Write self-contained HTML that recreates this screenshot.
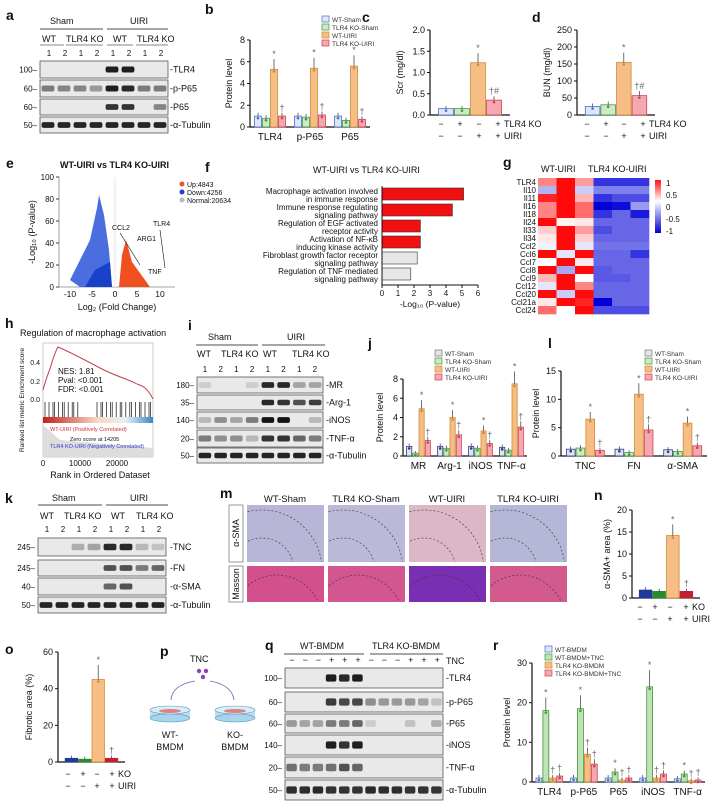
<!DOCTYPE html>
<html><head><meta charset="utf-8">
<style>
html,body{margin:0;padding:0;background:#fff;}
svg{display:block;font-family:"Liberation Sans",Arial,sans-serif;}
</style></head>
<body>
<svg id="fig" width="720" height="805" viewBox="0 0 720 805" xmlns="http://www.w3.org/2000/svg"></svg>
<script>
// ---------- data ----------
const bCats=["TLR4","p-P65","P65"];
const bVals=[[1.0,0.8,5.3,1.0],[1.0,0.9,5.4,1.1],[1.0,0.6,5.6,0.7]];
const bTicks=[0,2,4,6,8];
const cVals=[[0.15,0.15,1.23,0.35]];
const cTicks=[0.0,0.5,1.0,1.5,2.0];
const dVals=[[25,30,155,57]];
const dTicks=[0,50,100,150,200,250];
const jCats=["MR","Arg-1","iNOS","TNF-α"];
const jVals=[[1.0,0.3,4.9,1.6],[1.0,0.8,4.0,2.2],[1.0,0.8,2.6,1.3],[0.9,0.6,7.5,3.0]];
const jTicks=[0,2,4,6,8];
const lCats=["TNC","FN","α-SMA"];
const lVals=[[1.2,1.4,6.5,1.0],[1.2,0.6,10.9,4.6],[1.1,0.8,5.8,1.8]];
const lTicks=[0,5,10,15];
const nVals=[[1.8,1.5,14.2,1.5]];
const nTicks=[0,5,10,15,20];
const oVals=[[2,1.5,45,2]];
const oTicks=[0,20,40,60];
const rCats=["TLR4","p-P65","P65","iNOS","TNF-α"];
const rVals=[[1,18,1,1.5],[1,18.5,7,4.5],[1,2.5,0.5,1],[1,24,1,2],[0.8,2,0.3,0.5]];
const rTicks=[0,10,20,30];
const fTerms=["Macrophage activation involved|in immune response","Immune response regulating|signaling pathway","Regulation of EGF activated|receptor activity","Activation of NF-κB|inducing kinase activity","Fibroblast growth factor receptor|signaling pathway","Regulation of TNF mediated|signaling pathway"];
const fVals=[5.1,4.4,2.4,2.4,2.2,1.8];
const fTicks=[0,1,2,3,4,5,6];
const gGenes=["TLR4","Il10","Il11","Il16","Il18","Il24","Il33","Il34","Ccl2","Ccl6","Ccl7","Ccl8","Ccl9","Ccl12","Ccl20","Ccl21a","Ccl24"];
const gMat=[
[0.5,1,0.4,-0.8,-0.8,-0.8],[-0.3,1,-0.2,-0.5,-0.5,-0.5],[0.9,1,0.3,-0.8,-0.7,-0.7],[0.5,1,0.6,-1,-0.95,-0.4],
[0.5,1,0.6,-0.8,-0.6,-0.9],[1,0.05,0.1,-0.6,-0.6,-0.6],[0.2,1,0.4,-0.7,-0.6,-0.6],[0.1,1,0.2,-0.6,-0.6,-0.6],
[-0.05,1,-0.1,-0.55,-0.55,-0.55],[1,-0.1,1,-0.6,-0.6,-0.8],[0,1,0.1,-0.6,-0.6,-0.6],[1,-0.35,1,-0.65,-0.6,-0.6],
[0.3,1,0,-0.65,-0.65,-0.6],[-0.1,1,0.5,-0.6,-0.6,-0.6],[1,-0.2,1,-0.6,-0.6,-0.6],[0.1,1,0.9,-1,-0.6,-0.6],[0.6,0,1,-0.7,-0.7,-0.7]];

// ---------- helpers ----------
const NS="http://www.w3.org/2000/svg";
const svg=document.getElementById("fig");
function el(tag,attrs,name,parent,text){
  const e=document.createElementNS(NS,tag);
  for(const k in attrs)e.setAttribute(k,attrs[k]);
  
  
  if(text!==undefined)e.textContent=text;
  (parent||svg).appendChild(e);return e;
}
function txt(x,y,s,size,name,extra){return el("text",Object.assign({x:x,y:y,"font-size":size||8,fill:"#111"},extra||{}),name,null,s);}
function panel(x,y,l){txt(x,y,l,14,"panel-label-"+l,{"font-weight":"bold"});}
function line(x1,y1,x2,y2,name,w,c){return el("line",{x1,y1,x2,y2,stroke:c||"#111","stroke-width":w||1},name);}

const stdStroke=["#4a6fc6","#3d9a3d","#d08a3a","#d04050"];
const stdFill=["#dfe6f6","#cfe8c8","#f6be84","#f4a8b0"];

function barChart(o){
  const g=o.vals, nC=g.length, nS=g[0].length;
  const ymax=o.ticks[o.ticks.length-1];
  const ys=v=>o.y0-(v/ymax)*(o.y0-o.y1);
  const gw=(o.x1-o.x0)/nC;
  line(o.x0,o.y0,o.x1,o.y0,o.name+"-x-axis",1.2);
  line(o.x0,o.y0,o.x0,o.y1,o.name+"-y-axis",1.2);
  o.ticks.forEach(t=>{
    line(o.x0-3,ys(t),o.x0,ys(t),o.name+"-y-tick",1);
    txt(o.x0-5,ys(t)+3,o.fmt?o.fmt(t):String(t),o.tfs||9,o.name+"-y-tick-label",{"text-anchor":"end"});
  });
  const bw=gw*0.8/nS;
  g.forEach((vals,ci)=>{
    const gx=o.x0+ci*gw+gw*0.1;
    vals.forEach((v,si)=>{
      const x=gx+si*bw;
      el("rect",{x:x+0.5,y:ys(v),width:bw-1,height:o.y0-ys(v),fill:o.fills[si],stroke:o.strokes[si],"stroke-width":0.8},o.name+"-bar-"+ci+"-"+si);
      el("line",{x1:x+bw/2,y1:ys(v),x2:x+bw/2,y2:ys(v*1.15+ymax*0.02),stroke:"#333","stroke-width":0.7},o.name+"-error-bar");
      el("circle",{cx:x+bw/2,cy:ys(v)+2,r:1.3,fill:o.strokes[si]},o.name+"-dot");
      if(o.marks&&o.marks[si])txt(x+bw/2,ys(v*1.15+ymax*0.02)-2,o.marks[si],9,o.name+"-sig-mark",{"text-anchor":"middle",fill:"#666"});
    });
    if(o.cats)txt(o.x0+ci*gw+gw/2,o.y0+13,o.cats[ci],o.cfs||10,o.name+"-category-label",{"text-anchor":"middle"});
  });
  const yl=(o.y0+o.y1)/2;
  txt(0,0,o.ylabel,9,o.name+"-y-axis-title",{transform:`translate(${o.x0-o.yoff},${yl}) rotate(-90)`,"text-anchor":"middle"});
}
function legend(x,y,labels,fills,strokes,name,fs){
  labels.forEach((l,i)=>{
    el("rect",{x:x,y:y+i*8-6,width:7,height:6,fill:fills[i],stroke:strokes[i],"stroke-width":0.7},name+"-swatch");
    txt(x+10,y+i*8,l,fs||7,name+"-entry",{fill:"#333"});
  });
}
function pm(xs,y,rows,labels,name){
  rows.forEach((r,ri)=>{
    r.forEach((s,i)=>txt(xs[i],y+ri*12,s,9,name+"-sign",{"text-anchor":"middle"}));
    txt(xs[xs.length-1]+6,y+ri*12,labels[ri],9,name+"-row-label");
  });
}
function blot(x,y,w,h,lanes,intens,name){
  el("rect",{x:x,y:y,width:w,height:h,fill:"#e9e9e9",stroke:"#555","stroke-width":0.8},name+"-strip");
  const lw=w/lanes;
  intens.forEach((v,i)=>{
    if(v<0.08)return;
    const c=Math.round(225-v*205);
    el("rect",{x:x+i*lw+lw*0.1,y:y+h*0.32,width:lw*0.8,height:h*0.36,rx:2,fill:`rgb(${c},${c},${c})`},name+"-band");
  });
}
function blotPanel(rows,x,w,lanes,labelX,name){
  rows.forEach(r=>{
    blot(x,r[2],w,r[3],lanes,r[4],name+"-"+r[0]);
    if(r[1])txt(x-3,r[2]+r[3]/2+3,r[1]+"–",8,name+"-mw-marker",{"text-anchor":"end"});
    txt(labelX,r[2]+r[3]/2+3,"-"+r[0],9,name+"-protein-label");
  });
}
const defs=el("defs",{},"shared-defs");

// ---------- panel a ----------
panel(6,20,"a");
txt(50,24,"Sham",9,"group-label-sham");txt(130,24,"UIRI",9,"group-label-uiri");
line(40,29,103,29,"bracket-sham",0.8);line(107,29,168,29,"bracket-uiri",0.8);
[["WT",42],["TLR4 KO",66],["WT",113],["TLR4 KO",137]].forEach(a=>txt(a[1],42,a[0],9,"genotype-label"));
[[40,64],[66,103],[107,133],[136,168]].forEach(b=>line(b[0],45,b[1],45,"genotype-bracket",0.6));
for(let i=0;i<8;i++)txt(49+i*16,56,String(i%2+1),8,"lane-number",{"text-anchor":"middle"});
const aRows=[["TLR4","100",61,17,[0,0,0,0,0.95,0.95,0.05,0.05]],["p-P65","60",80,17,[0.5,0.45,0.45,0.35,0.95,0.9,0.5,0.5]],["P65","60",99,16,[0,0,0,0,0.85,0.85,0.05,0.45]],["α-Tubulin","50",117,16,[0.92,0.92,0.92,0.92,0.92,0.92,0.92,0.92]]];
blotPanel(aRows,40,128,8,170,"blot-a");

// ---------- panel b ----------
panel(205,14,"b");
legend(322,22,["WT-Sham","TLR4 KO-Sham","WT-UIRI","TLR4 KO-UIRI"],stdFill,stdStroke,"legend-b",6.5);
barChart({name:"chart-b",x0:250,x1:370,y0:127,y1:40,ticks:bTicks,vals:bVals,cats:bCats,fills:stdFill,strokes:stdStroke,ylabel:"Protein level",yoff:18,marks:["","","*","†"]});

// ---------- panel c ----------
panel(362,22,"c");
barChart({name:"chart-c",x0:430,x1:510,y0:115,y1:30,ticks:cTicks,vals:cVals,fills:stdFill,strokes:stdStroke,ylabel:"Scr (mg/dl)",yoff:27,fmt:t=>t.toFixed(1),marks:["","","*","†#"]});
pm([441,460,479,498],127,[["−","+","−","+"],["−","−","+","+"]],["TLR4 KO","UIRI"],"pm-c");

// ---------- panel d ----------
panel(532,22,"d");
barChart({name:"chart-d",x0:577,x1:655,y0:115,y1:30,ticks:dTicks,vals:dVals,fills:stdFill,strokes:stdStroke,ylabel:"BUN (mg/dl)",yoff:27,marks:["","","*","†#"]});
pm([587,606,624,643],127,[["−","+","−","+"],["−","−","+","+"]],["TLR4 KO","UIRI"],"pm-d");

// ---------- panel e (volcano) ----------
panel(6,168,"e");
txt(60,168,"WT-UIRI  vs TLR4 KO-UIRI",9,"volcano-title",{"font-weight":"bold"});
line(59,177,59,287,"volcano-y-axis",0.8,"#888");line(59,287,175,287,"volcano-x-axis",0.8,"#888");
[[0,287],[20,265],[40,243],[60,221],[80,199],[100,177]].forEach(t=>{line(56,t[1],59,t[1],"volcano-y-tick",0.8);txt(54,t[1]+3,String(t[0]),8,"volcano-y-tick-label",{"text-anchor":"end"});});
el("path",{d:"M112,287 L109,250 L104,215 L99,195 L97,208 L90,240 L70,280 L80,287 Z",fill:"#2a55d8",opacity:0.85},"volcano-down-cloud");
el("path",{d:"M112,287 L110,262 L95,270 L85,287Z",fill:"#1840c8"},"volcano-down-core");
el("path",{d:"M119,287 L122,255 L126,240 L132,262 L145,280 L150,287Z",fill:"#f05020"},"volcano-up-cloud");
line(115,177,115,287,"volcano-zero-gap",3,"#f4f4f4");
[[-10,70],[-5,92],[0,115],[5,137],[10,160]].forEach(t=>txt(t[1],297,String(t[0]),8.5,"volcano-x-tick",{"text-anchor":"middle"}));
txt(117,310,"Log₂ (Fold Change)",9,"volcano-x-title",{"text-anchor":"middle"});
txt(0,0,"-Log₁₀ (P-value)",9,"volcano-y-title",{transform:"translate(35,232) rotate(-90)","text-anchor":"middle"});
[["Up:4843","#f05020"],["Down:4256","#1f3fd0"],["Normal:20634","#bbb"]].forEach((l,i)=>{el("circle",{cx:182,cy:184+i*8,r:2.5,fill:l[1]},"volcano-legend-dot");txt(187,187+i*8,l[0],7,"volcano-legend-entry");});
[["TLR4",153,226],["CCL2",112,230],["ARG1",137,241],["TNF",148,274]].forEach(l=>txt(l[1],l[2],l[0],7,"volcano-gene-label"));
line(120,233,140,265,"volcano-ccl2-pointer",0.6);line(160,230,165,268,"volcano-tlr4-pointer",0.6);

// ---------- panel f ----------
panel(205,172,"f");
txt(313,173,"WT-UIRI  vs  TLR4 KO-UIRI",9,"enrichment-title");
const fx0=382,fs=16;
fTerms.forEach((t,i)=>{
  const y=188+i*16;
  t.split("|").forEach((p,j)=>txt(378,y+6+j*8,p,8,"enrichment-term",{"text-anchor":"end"}));
  el("rect",{x:fx0,y:y,width:fVals[i]*fs,height:12,fill:i<4?"#f01010":"#e6e6e6",stroke:"#333","stroke-width":0.6},"enrichment-bar-"+i);
});
line(fx0,285,fx0+6*fs,285,"enrichment-x-axis",1);
line(fx0,186,fx0,285,"enrichment-y-axis",1);
fTicks.forEach(t=>{line(fx0+t*fs,285,fx0+t*fs,288,"enrichment-x-tick",1);txt(fx0+t*fs,296,String(t),8,"enrichment-x-tick-label",{"text-anchor":"middle"});});
txt(fx0+48,307,"-Log₁₀ (P-value)",8.5,"enrichment-x-title",{"text-anchor":"middle"});

// ---------- panel g heatmap ----------
panel(503,167,"g");
txt(541,172,"WT-UIRI",9,"heatmap-group-wt");txt(588,172,"TLR4 KO-UIRI",9,"heatmap-group-ko");
function hcol(v){
  if(v>=0){return `rgb(255,${Math.round(255-v*245)},${Math.round(255-v*245)})`;}
  const a=-v;return `rgb(${Math.round(255-a*255)},${Math.round(255-a*255)},${Math.round(255-a*40)})`;
}
const hx=538,hy=178,cw=18.5,rh=8;
gMat.forEach((row,ri)=>{
  txt(hx-2,hy+ri*rh+7,gGenes[ri],8,"heatmap-row-label",{"text-anchor":"end"});
  row.forEach((v,ci)=>el("rect",{x:hx+ci*cw,y:hy+ri*rh,width:cw+0.3,height:rh+0.3,fill:hcol(v)},"heatmap-cell-"+ri+"-"+ci));
});
const lg=el("linearGradient",{id:"cbg",x1:0,y1:0,x2:0,y2:1},"colorbar-gradient",defs);
el("stop",{offset:"0","stop-color":"#ff1010"},"grad-stop",lg);el("stop",{offset:"0.4","stop-color":"#fff"},"grad-stop",lg);el("stop",{offset:"1","stop-color":"#0000d0"},"grad-stop",lg);
el("rect",{x:655,y:180,width:6,height:53,fill:"url(#cbg)"},"colorbar");
[["1",183],["0.5",195],["0",207],["-0.5",219],["-1",231]].forEach(t=>txt(666,t[1]+3,t[0],8,"colorbar-label"));

// ---------- panel h GSEA ----------
panel(5,328,"h");
txt(20,336,"Regulation of macrophage activation",9,"gsea-title");
el("rect",{x:43,y:343,width:110,height:114,fill:"#fff",stroke:"#aaa","stroke-width":0.6},"gsea-plot-area");
el("path",{d:"M43,390 C47,375 50,370 52,362 C54,356 56,350 58,347 C70,352 85,360 100,368 C115,376 125,378 135,383 C140,386 145,384 153,399",fill:"none",stroke:"#c0404a","stroke-width":1},"gsea-enrichment-curve");
[[0.4,362],[0.2,381],[0.0,399]].forEach(t=>txt(40,t[1]+3,t[0].toFixed(1),7,"gsea-y-tick",{"text-anchor":"end"}));
txt(58,374,"NES: 1.81",8,"gsea-nes");txt(58,383,"Pval: <0.001",8,"gsea-pval");txt(58,392,"FDR: <0.001",8,"gsea-fdr");
for(let i=0;i<34;i++){const x=45+i*3.2+(i%3)*0.8;if(x<152&&!(x>80&&x<95))line(x,402,x,417,"gsea-hit",0.7);}
const gg=el("linearGradient",{id:"rankg",x1:0,y1:0,x2:1,y2:0},"rank-gradient",defs);
el("stop",{offset:"0","stop-color":"#c02020"},"grad-stop",gg);el("stop",{offset:"0.5","stop-color":"#f8d8c8"},"grad-stop",gg);el("stop",{offset:"0.75","stop-color":"#e8eef4"},"grad-stop",gg);el("stop",{offset:"1","stop-color":"#3a88c8"},"grad-stop",gg);
el("rect",{x:43,y:417,width:110,height:6,fill:"url(#rankg)"},"gsea-ranked-bar");
el("path",{d:"M43,425 L60,440 L153,448 L153,457 L43,457Z",fill:"#ddd"},"gsea-ranked-metric");
txt(50,431,"WT-UIRI (Positively Correlated)",5.5,"gsea-legend",{fill:"#c33"});txt(70,441,"Zero score at 14205",5.5,"gsea-legend");txt(50,448,"TLR4 KO-UIRI (Negatively Correlated)",5.5,"gsea-legend",{fill:"#33c"});
[["0",43],["10000",80],["20000",117]].forEach(t=>txt(t[1],466,t[0],8,"gsea-x-tick",{"text-anchor":"middle"}));
txt(100,478,"Rank in Ordered Dataset",9,"gsea-x-title",{"text-anchor":"middle"});
txt(0,0,"Ranked list metric Enrichment score",6.5,"gsea-y-title",{transform:"translate(24,400) rotate(-90)","text-anchor":"middle"});

// ---------- panel i ----------
panel(188,330,"i");
txt(208,340,"Sham",9,"group-label-sham-i");txt(287,340,"UIRI",9,"group-label-uiri-i");
line(196,345,258,345,"bracket-sham-i",0.8);line(262,345,325,345,"bracket-uiri-i",0.8);
[["WT",197],["TLR4 KO",221],["WT",263],["TLR4 KO",292]].forEach(a=>txt(a[1],357,a[0],9,"genotype-label-i"));
for(let i=0;i<8;i++)txt(205+i*15.7,372,String(i%2+1),8,"lane-number-i",{"text-anchor":"middle"});
const iRows=[["MR","180",377,16,[0.1,0,0,0.1,0.9,0.9,0.3,0.3]],["Arg-1","35",395,15,[0,0,0,0,0.9,0.85,0.7,0.8]],["iNOS","140",412,16,[0.2,0.4,0.3,0.5,1,1,0,0.2]],["TNF-α","20",430,17,[0.5,0.4,0.4,0.2,0.85,0.85,0.6,0.5]],["α-Tubulin","50",448,15,[0.92,0.92,0.92,0.92,0.92,0.92,0.92,0.92]]];
blotPanel(iRows,197,126,8,326,"blot-i");

// ---------- panel j ----------
panel(368,348,"j");
legend(435,356,["WT-Sham","TLR4 KO-Sham","WT-UIRI","TLR4 KO-UIRI"],["#e4e4e4","#cfe8c8","#f6be84","#f4a8b0"],["#777","#3d9a3d","#d08a3a","#d04050"],"legend-j",6.5);
barChart({name:"chart-j",x0:403,x1:527,y0:456,y1:379,ticks:jTicks,vals:jVals,cats:jCats,fills:["#e4e4e4","#cfe8c8","#f6be84","#f4a8b0"],strokes:["#2a3a8a","#3d9a3d","#d08a3a","#d04050"],ylabel:"Protein level",yoff:20,marks:["","","*","†"]});

// ---------- panel l ----------
panel(548,348,"l");
legend(645,356,["WT-Sham","TLR4 KO-Sham","WT-UIRI","TLR4 KO-UIRI"],["#e4e4e4","#cfe8c8","#f6be84","#f4a8b0"],["#777","#3d9a3d","#d08a3a","#d04050"],"legend-l",6.5);
barChart({name:"chart-l",x0:561,x1:707,y0:456,y1:371,ticks:lTicks,vals:lVals,cats:lCats,fills:["#e4e4e4","#cfe8c8","#f6be84","#f4a8b0"],strokes:["#2a3a8a","#3d9a3d","#d08a3a","#d04050"],ylabel:"Protein level",yoff:22,marks:["","","*","†"]});

// ---------- panel k ----------
panel(5,503,"k");
txt(52,501,"Sham",9,"group-label-sham-k");txt(130,501,"UIRI",9,"group-label-uiri-k");
line(38,505,102,505,"bracket-sham-k",0.8);line(106,505,168,505,"bracket-uiri-k",0.8);
[["WT",40],["TLR4 KO",64],["WT",111],["TLR4 KO",136]].forEach(a=>txt(a[1],519,a[0],9,"genotype-label-k"));
for(let i=0;i<8;i++)txt(47+i*16,532,String(i%2+1),8,"lane-number-k",{"text-anchor":"middle"});
const kRows=[["TNC","245",538,18,[0,0,0.25,0.3,0.9,0.9,0.2,0.15]],["FN","245",560,16,[0,0,0,0,0.7,0.7,0.5,0.6]],["α-SMA","40",578,17,[0.05,0.05,0,0,0.6,0.7,0,0]],["α-Tubulin","50",597,16,[0.92,0.92,0.92,0.92,0.92,0.92,0.92,0.92]]];
blotPanel(kRows,38,128,8,170,"blot-k");

// ---------- panel m ----------
panel(220,498,"m");
const mLabels=["WT-Sham","TLR4 KO-Sham","WT-UIRI","TLR4 KO-UIRI"];
const mTop=["#b7b6d6","#bab9d8","#dcb8c6","#b6b6d6"];
const mBot=["#d2508c","#d35690","#7a2eb2","#d35a8c"];
mLabels.forEach((l,i)=>{
  const x=247+i*81;
  txt(x+38,502,l,9.5,"histology-column-label",{"text-anchor":"middle"});
  const cpT=el("clipPath",{id:"clipT"+i},"histology-clip",defs);
  el("rect",{x:x,y:505,width:77,height:57},"histology-clip-rect",cpT);
  const cpB=el("clipPath",{id:"clipB"+i},"histology-clip",defs);
  el("rect",{x:x,y:566,width:77,height:36},"histology-clip-rect",cpB);
  el("rect",{x:x,y:505,width:77,height:57,fill:mTop[i]},"histology-asma-"+i);
  el("rect",{x:x,y:566,width:77,height:36,fill:mBot[i]},"histology-masson-"+i);
  el("circle",{cx:x+15,cy:570,r:60,fill:"none",stroke:"#334","stroke-width":0.6,"stroke-dasharray":"2,2","clip-path":`url(#clipT${i})`},"histology-dashed-outline");
  el("circle",{cx:x+15,cy:570,r:32,fill:"none",stroke:"#334","stroke-width":0.6,"stroke-dasharray":"2,2","clip-path":`url(#clipT${i})`},"histology-dashed-outline");
  el("circle",{cx:x+30,cy:620,r:45,fill:"none",stroke:"#334","stroke-width":0.6,"stroke-dasharray":"2,2","clip-path":`url(#clipB${i})`},"histology-dashed-outline");
});
el("rect",{x:229,y:505,width:14,height:57,fill:"#fff",stroke:"#555","stroke-width":0.6},"histology-label-box-asma");
el("rect",{x:229,y:566,width:14,height:36,fill:"#fff",stroke:"#555","stroke-width":0.6},"histology-label-box-masson");
txt(0,0,"α-SMA",9,"histology-row-label-asma",{transform:"translate(239,533) rotate(-90)","text-anchor":"middle"});
txt(0,0,"Masson",9,"histology-row-label-masson",{transform:"translate(239,584) rotate(-90)","text-anchor":"middle"});

// ---------- panel n ----------
panel(594,500,"n");
barChart({name:"chart-n",x0:632,x1:700,y0:598,y1:510,ticks:nTicks,vals:nVals,fills:["#1f3a9a","#2a8a2a","#f6be84","#c02030"],strokes:["#1f3a9a","#2a8a2a","#d08a3a","#c02030"],ylabel:"α-SMA+ area (%)",yoff:22,marks:["","","*","†"]});
pm([640,655,670,686],610,[["−","+","−","+"],["−","−","+","+"]],["KO","UIRI"],"pm-n");

// ---------- panel o ----------
panel(5,654,"o");
barChart({name:"chart-o",x0:58,x1:125,y0:762,y1:652,ticks:oTicks,vals:oVals,fills:["#1f3a9a","#2a8a2a","#f6be84","#c02030"],strokes:["#1f3a9a","#2a8a2a","#d08a3a","#c02030"],ylabel:"Fibrotic area (%)",yoff:26,marks:["","","*","†"]});
pm([68,83,97,112],777,[["−","+","−","+"],["−","−","+","+"]],["KO","UIRI"],"pm-o");

// ---------- panel p ----------
panel(160,656,"p");
txt(190,662,"TNC",9,"tnc-label");
[[199,671],[206,671],[203,677]].forEach(c=>el("circle",{cx:c[0],cy:c[1],r:2.2,fill:"#9040c0"},"tnc-molecule"));
el("path",{d:"M195,681 Q172,685 171,700",fill:"none",stroke:"#7060b0","stroke-width":0.8},"arrow-to-wt");
el("path",{d:"M210,681 Q232,685 234,700",fill:"none",stroke:"#7060b0","stroke-width":0.8},"arrow-to-ko");
[[170,"WT-"],[235,"KO-"]].forEach(d=>{
  el("rect",{x:d[0]-20,y:710,width:40,height:8,fill:"#bcdff0"},"culture-dish-body");
  el("ellipse",{cx:d[0],cy:718,rx:20,ry:4,fill:"#a8d4ec",stroke:"#5a9ac0","stroke-width":0.6},"culture-dish-bottom");
  el("ellipse",{cx:d[0],cy:710,rx:20,ry:4,fill:"#d8eef8",stroke:"#5a9ac0","stroke-width":0.6},"culture-dish-top");
  el("ellipse",{cx:d[0],cy:711,rx:11,ry:2,fill:"#e08080"},"cells");
  txt(d[0],738,d[1],9,"dish-label",{"text-anchor":"middle"});txt(d[0],750,"BMDM",9,"dish-label",{"text-anchor":"middle"});
});

// ---------- panel q ----------
panel(265,650,"q");
txt(300,649,"WT-BMDM",9,"group-label-wt-bmdm");txt(372,649,"TLR4 KO-BMDM",9,"group-label-ko-bmdm");
line(284,654,364,654,"bracket-wt-bmdm",0.8);line(370,654,443,654,"bracket-ko-bmdm",0.8);
const qSigns=["−","−","−","+","+","+","−","−","−","+","+","+"];
qSigns.forEach((s,i)=>txt(292+i*13.2,663,s,9,"treatment-sign",{"text-anchor":"middle"}));
txt(446,664,"TNC",9,"tnc-row-label");
const qRows=[["TLR4","100",668,20,[0,0,0,0.95,0.9,0.95,0,0,0,0,0,0]],["p-P65","60",692,20,[0,0,0,0.8,0.75,0.75,0.4,0.35,0.35,0.35,0.3,0.15]],["P65","60",714,19,[0.35,0.3,0.3,0.5,0.5,0.6,0.1,0.05,0.05,0.15,0.05,0.25]],["iNOS","140",735,20,[0,0,0,0.95,0.85,0.95,0,0,0,0,0,0]],["TNF-α","20",757,21,[0.55,0.5,0.5,0.55,0.7,0.6,0,0,0,0,0,0]],["α-Tubulin","50",780,20,[0.88,0.88,0.9,0.85,0.85,0.85,0.9,0.88,0.88,0.85,0.85,0.85]]];
blotPanel(qRows,285,158,12,446,"blot-q");

// ---------- panel r ----------
panel(493,650,"r");
legend(545,652,["WT-BMDM","WT-BMDM+TNC","TLR4 KO-BMDM","TLR4 KO-BMDM+TNC"],["#dfe6f6","#bfe3b4","#f6be84","#f4a8b0"],["#4a6fc6","#3d9a3d","#d08a3a","#d04050"],"legend-r",6.5);
barChart({name:"chart-r",x0:532,x1:705,y0:782,y1:663,ticks:rTicks,vals:rVals,cats:rCats,fills:["#dfe6f6","#bfe3b4","#f6be84","#f4a8b0"],strokes:["#4a6fc6","#3d9a3d","#d08a3a","#d04050"],ylabel:"Protein level",yoff:22,marks:["","*","†","†"]});
</script>
</body></html>
